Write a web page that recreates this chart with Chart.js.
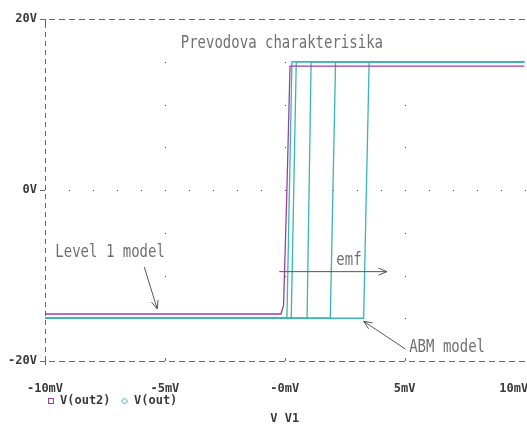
<!DOCTYPE html>
<html>
<head>
<meta charset="utf-8">
<script src="https://cdn.jsdelivr.net/npm/chart.js@4.4.1/dist/chart.umd.min.js"></script>
<style>
  html, body { margin: 0; padding: 0; background: #fff; overflow: hidden; }
  canvas { display: block; }
</style>
</head>
<body>
<canvas id="plot" width="527" height="426"></canvas>
<script>
// sweep of V1 in mV, outputs in V
const xTickValues = [-10, -5, 0, 5, 10];
const xTickLabels = ['-10mV', '-5mV', '-0mV', '5mV', '10mV'];
const yTickValues = [-20, 0, 20];
const yTickLabels = ['-20V', '0V', '20V'];

// V(out2) - level 1 model
const out2Mv = [-10, -0.16, -0.05, 0.09, 0.22, 10];
const out2V = [-14.5, -14.5, -13.5, 0, 14.5, 14.5];

// V(out) - ABM model, one trace per emf step
const outRiseMv = [0.09, 0.27, 0.93, 1.90, 3.29];
const outTopMv = [0.30, 0.48, 1.10, 2.12, 3.52];
const outLowV = -15;
const outHighV = 15;

// text notes on the plot (left edge in mV, baseline in V)
const noteTexts = ['Prevodova charakterisika', 'Level 1 model', 'emf', 'ABM model'];
const noteMv = [-4.34, -9.57, 2.15, 5.19];
const noteV = [16.57, -7.8, -8.77, -19.0];
// arrows: [mV, V] start and tip
const arrowFrom = [[-5.86, -9.0], [-0.23, -9.55], [5.03, -18.6]];
const arrowTo = [[-5.32, -13.9], [4.26, -9.55], [3.29, -15.35]];

const PURPLE = '#a03ca0';
const CYAN = '#3ab4b4';
const MONO = "'DejaVu Sans Mono', monospace";

const datasets = [{
    label: 'V(out2)',
    data: out2Mv.map((mv, i) => ({ x: mv, y: out2V[i] })),
    borderColor: PURPLE,
    borderWidth: 1.3,
    pointRadius: 0,
    tension: 0
}];
outRiseMv.forEach((rise, i) => {
    datasets.push({
        label: 'V(out)',
        data: [
            { x: -10, y: outLowV },
            { x: rise, y: outLowV },
            { x: outTopMv[i], y: outHighV },
            { x: 10, y: outHighV }
        ],
        borderColor: CYAN,
        borderWidth: 1.3,
        pointRadius: 0,
        tension: 0
    });
});

function drawArrow(ctx, x0, y0, x1, y1) {
    const a = Math.atan2(y1 - y0, x1 - x0);
    ctx.beginPath();
    ctx.moveTo(x0, y0);
    ctx.lineTo(x1, y1);
    ctx.moveTo(x1 - 9 * Math.cos(a - 0.4), y1 - 9 * Math.sin(a - 0.4));
    ctx.lineTo(x1, y1);
    ctx.lineTo(x1 - 9 * Math.cos(a + 0.4), y1 - 9 * Math.sin(a + 0.4));
    ctx.stroke();
}

// dashed frame, dotted grid, notes, arrows and the legend under the axis
const decor = {
    id: 'decor',
    beforeDatasetsDraw(chart) {
        const { ctx, chartArea: area, scales: { x, y } } = chart;
        ctx.save();
        ctx.fillStyle = '#555';
        const dot = (px, py) => ctx.fillRect(Math.round(px), Math.round(py), 1, 1);
        [-5, 0, 5].forEach(mv => {
            for (let v = -15; v <= 15; v += 5) dot(x.getPixelForValue(mv), y.getPixelForValue(v));
        });
        for (let mv = -9; mv <= 10; mv++) dot(x.getPixelForValue(mv), y.getPixelForValue(0));

        // dashed frame
        ctx.strokeStyle = '#6a6a6a';
        ctx.lineWidth = 1;
        ctx.setLineDash([6, 4]);
        ctx.beginPath();
        ctx.moveTo(area.left + 4, Math.round(area.top) + 0.5);
        ctx.lineTo(area.right + 3, Math.round(area.top) + 0.5);
        ctx.moveTo(area.left + 4, Math.round(area.bottom) + 0.5);
        ctx.lineTo(area.right + 3, Math.round(area.bottom) + 0.5);
        ctx.stroke();
        ctx.setLineDash([5, 4]);
        ctx.beginPath();
        ctx.moveTo(Math.round(area.left) + 0.5, area.top + 4);
        ctx.lineTo(Math.round(area.left) + 0.5, area.bottom - 3);
        ctx.stroke();
        ctx.setLineDash([]);

        // small ticks on the frame
        ctx.fillStyle = '#666';
        [-5, 0, 5].forEach(mv => {
            ctx.fillRect(Math.round(x.getPixelForValue(mv)), Math.round(area.bottom) - 3, 1, 3);
        });
        ctx.fillRect(Math.round(area.left), Math.round(area.top), 1, 4);
        ctx.fillRect(Math.round(area.left), Math.round(area.bottom) - 3, 1, 7);
        ctx.restore();
    },
    afterDraw(chart) {
        const { ctx, chartArea, scales: { x, y } } = chart;
        ctx.save();
        ctx.fillStyle = '#707070';
        ctx.font = '14px ' + MONO;
        ctx.textBaseline = 'alphabetic';
        noteTexts.forEach((t, i) => {
            ctx.save();
            ctx.translate(x.getPixelForValue(noteMv[i]), y.getPixelForValue(noteV[i]));
            ctx.scale(1, 1.3);
            ctx.fillText(t, 0, 0);
            ctx.restore();
        });
        ctx.strokeStyle = '#555';
        ctx.lineWidth = 1;
        arrowFrom.forEach((f, i) => {
            drawArrow(ctx,
                x.getPixelForValue(f[0]), y.getPixelForValue(f[1]),
                x.getPixelForValue(arrowTo[i][0]), y.getPixelForValue(arrowTo[i][1]));
        });

        // legend
        ctx.font = 'bold 12px ' + MONO;
        ctx.fillStyle = '#3a3a3a';
        ctx.textBaseline = 'middle';
        const ly = 401;
        ctx.strokeStyle = PURPLE;
        ctx.strokeRect(48.5, ly - 2.5, 5, 5);
        ctx.fillText('V(out2)', 60, ly);
        ctx.strokeStyle = CYAN;
        ctx.beginPath();
        ctx.moveTo(124.5, ly - 3);
        ctx.lineTo(127.5, ly);
        ctx.lineTo(124.5, ly + 3);
        ctx.lineTo(121.5, ly);
        ctx.closePath();
        ctx.stroke();
        ctx.fillText('V(out)', 134, ly);

        // axis title
        ctx.textAlign = 'center';
        ctx.fillText('V V1', (chartArea.left + chartArea.right) / 2, 419);
        ctx.restore();
    }
};

const ctx = document.getElementById('plot').getContext('2d');
new Chart(ctx, {
    type: 'line',
    data: { datasets: datasets },
    options: {
        responsive: false,
        animation: false,
        layout: { padding: { top: 19, right: 2.5, bottom: 31, left: 0 } },
        plugins: {
            legend: { display: false },
            tooltip: { enabled: false }
        },
        scales: {
            x: {
                type: 'linear',
                min: -10,
                max: 10,
                position: 'bottom',
                afterFit: s => { s.height = 34; s.paddingLeft = 0; s.paddingRight = 0; },
                ticks: {
                    stepSize: 5,
                    maxRotation: 0,
                    autoSkip: false,
                    padding: 21,
                    color: '#3a3a3a',
                    font: { family: MONO, size: 12, weight: 'bold' },
                    callback: (v, i, ticks) => {
                        const label = xTickLabels[xTickValues.indexOf(v)];
                        return i === ticks.length - 1 ? label + '   ' : label;
                    }
                },
                grid: { drawOnChartArea: false, drawTicks: false },
                border: { display: false }
            },
            y: {
                type: 'linear',
                min: -20,
                max: 20,
                afterFit: s => { s.width = 45; s.paddingTop = 0; s.paddingBottom = 0; },
                ticks: {
                    stepSize: 20,
                    padding: 3,
                    color: '#3a3a3a',
                    font: { family: MONO, size: 12, weight: 'bold' },
                    callback: v => yTickLabels[yTickValues.indexOf(v)]
                },
                grid: { drawOnChartArea: false, drawTicks: true, tickLength: 5, color: '#6a6a6a' },
                border: { display: false }
            }
        }
    },
    plugins: [decor]
});
</script>
</body>
</html>
